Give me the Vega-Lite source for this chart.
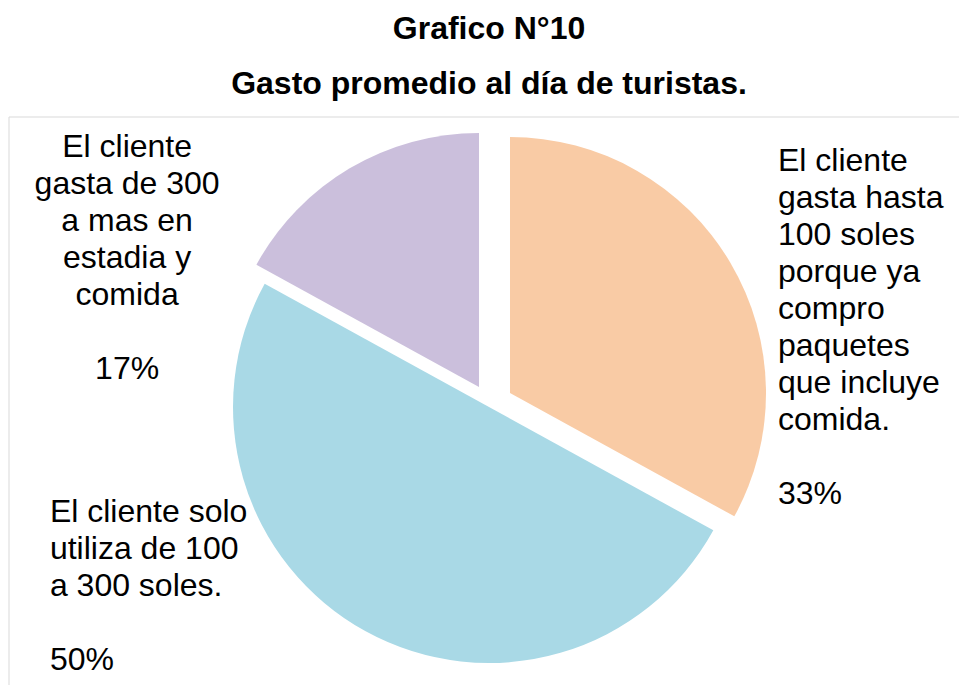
{
  "$schema": "https://vega.github.io/schema/vega-lite/v6.json",
  "width": 960,
  "height": 580,
  "autosize": {"type": "none"},
  "padding": {"left": 9, "top": 117, "right": 0, "bottom": 0},
  "background": "white",
  "config": {"view": {"stroke": null}, "font": "Liberation Sans"},
  "title": {
    "text": ["Grafico N°10", "Gasto promedio al día de turistas."],
    "font": "Liberation Sans",
    "fontSize": 32,
    "fontWeight": "bold",
    "color": "#000000",
    "lineHeight": 55,
    "anchor": "middle",
    "offset": 16
  },
  "data": {
    "values": [
      {"orden": 1, "categoria": "El cliente gasta hasta 100 soles porque ya compro paquetes que incluye comida.", "porcentaje": 33, "etiqueta": "El cliente\ngasta hasta\n100 soles\nporque ya\ncompro\npaquetes\nque incluye\ncomida.", "etiqueta_pct": "33%"},
      {"orden": 2, "categoria": "El cliente solo utiliza de 100 a 300 soles.", "porcentaje": 50, "etiqueta": "El cliente solo\nutiliza de 100\na 300 soles.", "etiqueta_pct": "50%"},
      {"orden": 3, "categoria": "El cliente gasta de 300 a mas en estadia y comida", "porcentaje": 17, "etiqueta": "El cliente\ngasta de 300\na mas en\nestadia y\ncomida", "etiqueta_pct": "17%"}
    ]
  },
  "transform": [
    {"stack": "porcentaje", "groupby": [], "sort": [{"field": "orden", "order": "ascending"}], "as": ["t0", "t1"]}
  ],
  "layer": [
    {
      "transform": [{"filter": "datum.orden == 1"}],
      "mark": {"type": "rect", "fill": null, "stroke": "#d9d9d9", "strokeWidth": 1},
      "encoding": {}
    },
    {
      "transform": [{"filter": "datum.orden == 1"}],
      "mark": {"type": "arc", "outerRadius": 256, "fill": "#F9CBA5", "xOffset": 21, "yOffset": -14},
      "encoding": {
        "theta": {"field": "t0", "type": "quantitative", "scale": {"domain": [0, 100]}},
        "theta2": {"field": "t1"}
      }
    },
    {
      "transform": [{"filter": "datum.orden == 2"}],
      "mark": {"type": "arc", "outerRadius": 256, "fill": "#A9D9E6"},
      "encoding": {
        "theta": {"field": "t0", "type": "quantitative", "scale": {"domain": [0, 100]}},
        "theta2": {"field": "t1"}
      }
    },
    {
      "transform": [{"filter": "datum.orden == 3"}],
      "mark": {"type": "arc", "outerRadius": 254, "fill": "#CBBFDC", "xOffset": -10, "yOffset": -20},
      "encoding": {
        "theta": {"field": "t0", "type": "quantitative", "scale": {"domain": [0, 100]}},
        "theta2": {"field": "t1"}
      }
    },
    {
      "transform": [{"filter": "datum.orden == 1"}],
      "mark": {"type": "text", "radius": 300, "align": "left", "baseline": "top", "dx": 289, "dy": 39, "fontSize": 32, "lineHeight": 37, "lineBreak": "\n", "font": "Liberation Sans", "color": "#000000"},
      "encoding": {
        "theta": {"field": "t0", "type": "quantitative", "scale": {"domain": [0, 100]}},
        "text": {"field": "etiqueta"}
      }
    },
    {
      "transform": [{"filter": "datum.orden == 1"}],
      "mark": {"type": "text", "radius": 300, "align": "left", "baseline": "top", "dx": 289, "dy": 372, "fontSize": 32, "font": "Liberation Sans", "color": "#000000"},
      "encoding": {
        "theta": {"field": "t0", "type": "quantitative", "scale": {"domain": [0, 100]}},
        "text": {"field": "etiqueta_pct"}
      }
    },
    {
      "transform": [{"filter": "datum.orden == 2"}],
      "mark": {"type": "text", "radius": 300, "align": "left", "baseline": "top", "dx": -702, "dy": -55, "fontSize": 32, "lineHeight": 37, "lineBreak": "\n", "font": "Liberation Sans", "color": "#000000"},
      "encoding": {
        "theta": {"field": "t0", "type": "quantitative", "scale": {"domain": [0, 100]}},
        "text": {"field": "etiqueta"}
      }
    },
    {
      "transform": [{"filter": "datum.orden == 2"}],
      "mark": {"type": "text", "radius": 300, "align": "left", "baseline": "top", "dx": -702, "dy": 93, "fontSize": 32, "font": "Liberation Sans", "color": "#000000"},
      "encoding": {
        "theta": {"field": "t0", "type": "quantitative", "scale": {"domain": [0, 100]}},
        "text": {"field": "etiqueta_pct"}
      }
    },
    {
      "transform": [{"filter": "datum.orden == 3"}],
      "mark": {"type": "text", "radius": 300, "align": "center", "baseline": "top", "dx": -99, "dy": -130, "fontSize": 32, "lineHeight": 37, "lineBreak": "\n", "font": "Liberation Sans", "color": "#000000"},
      "encoding": {
        "theta": {"field": "t0", "type": "quantitative", "scale": {"domain": [0, 100]}},
        "text": {"field": "etiqueta"}
      }
    },
    {
      "transform": [{"filter": "datum.orden == 3"}],
      "mark": {"type": "text", "radius": 300, "align": "center", "baseline": "top", "dx": -99, "dy": 92, "fontSize": 32, "font": "Liberation Sans", "color": "#000000"},
      "encoding": {
        "theta": {"field": "t0", "type": "quantitative", "scale": {"domain": [0, 100]}},
        "text": {"field": "etiqueta_pct"}
      }
    }
  ]
}
